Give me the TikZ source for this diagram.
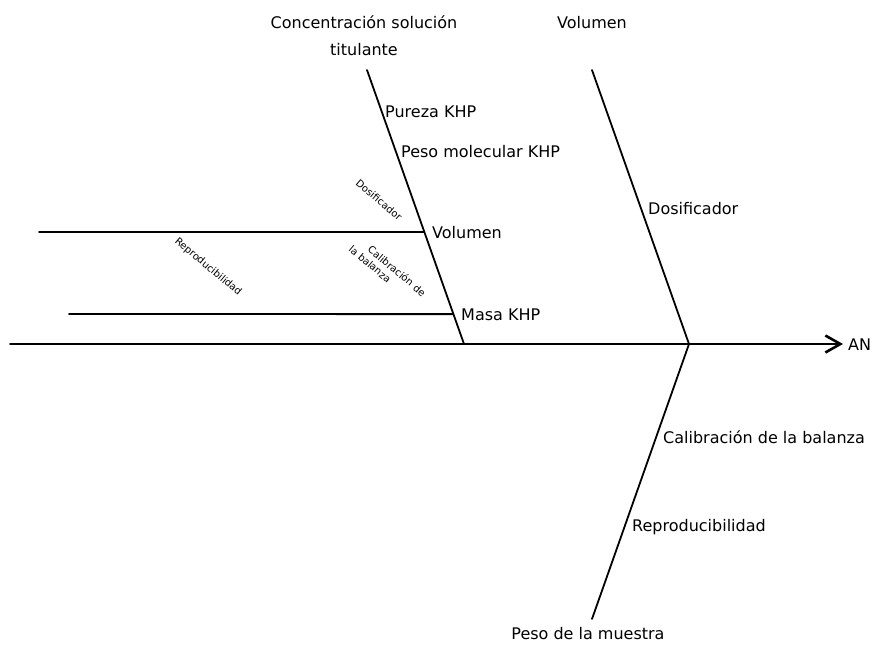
\documentclass[tikz,border=0pt]{standalone}
\usepackage{fontspec}
\setmainfont{DejaVu Sans}
\usetikzlibrary{arrows.meta,calc}
\tikzset{
  bone/.style={line width=1.8pt, line cap=round},
  lbl/.style={inner sep=0pt, font=\fontsize{16}{27}\selectfont},
  tiny/.style={inner sep=0pt, font=\fontsize{10}{12}\selectfont, rotate=-40},
}
\begin{document}
\begin{tikzpicture}[x=1pt, y=-1pt]
\useasboundingbox (0,0) rectangle (879,646);

% spine and main bones
\coordinate (spineL) at (10,344);
\coordinate (spineR) at (843,344);
\coordinate (b1top) at (367,70);
\coordinate (b1bot) at (464,344);
\coordinate (b2top) at (592,70);
\coordinate (joint) at (689,344);
\coordinate (b3bot) at (592,619);

% sub-branches on the first bone
\coordinate (volEnd) at ($(b1top)!0.591!(b1bot)$);
\coordinate (volStart) at (39,232);
\coordinate (masEnd) at ($(b1top)!0.891!(b1bot)$);
\coordinate (masStart) at (69,314);

\draw[bone, -{Straight Barb[length=15pt, width=17pt, line width=2.6pt]}] (spineL) -- (spineR);
\draw[bone] (b1top) -- (b1bot);
\draw[bone] (b2top) -- (joint) -- (b3bot);
\draw[bone] (volStart) -- (volEnd);
\draw[bone] (masStart) -- (masEnd);

% effect
\node[lbl, anchor=base west] (an) at (848,350) {AN};

% category labels
\node[lbl, anchor=base, align=center] (conc) at (364,55) {Concentración solución\\titulante};
\node[lbl, anchor=base] (volTop) at (592,28) {Volumen};
\node[lbl, anchor=base] (peso) at (588,639) {Peso de la muestra};

% causes
\node[lbl, anchor=base west] (pureza) at (385,117) {Pureza KHP};
\node[lbl, anchor=base west] (pm) at (401,157) {Peso molecular KHP};
\node[lbl, anchor=base west] (vol) at (432,238) {Volumen};
\node[lbl, anchor=base west] (masa) at (461,320) {Masa KHP};
\node[lbl, anchor=base west] (dosif) at (648,214) {Dosificador};
\node[lbl, anchor=base west] (calib) at (663,443) {Calibración de la balanza};
\node[lbl, anchor=base west] (repro) at (632,531) {Reproducibilidad};

% sub-causes
\node[tiny] (dosifS) at (379,200) {Dosificador};
\node[tiny] (reproS) at (208,267) {Reproducibilidad};
\node[tiny] (calibA) at (397,271) {Calibración de};
\node[tiny] (calibB) at (370,264) {la balanza};
\end{tikzpicture}
\end{document}
